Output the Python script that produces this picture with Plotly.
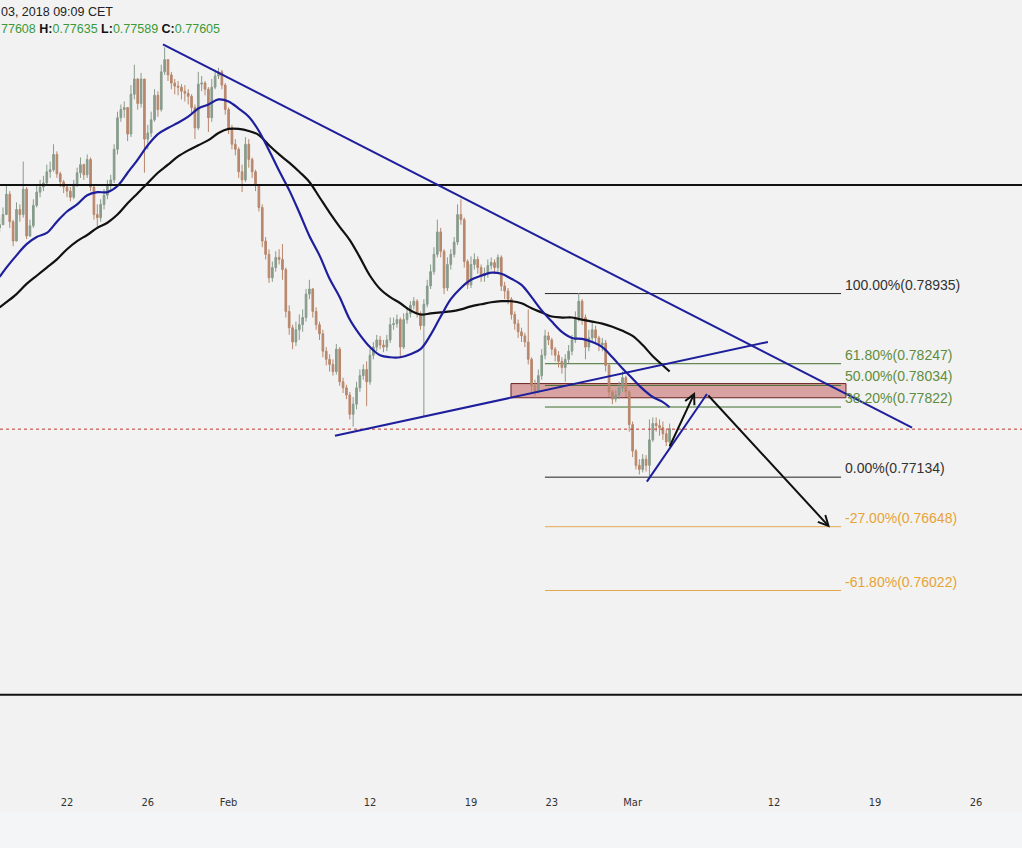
import pandas as pd
import plotly.graph_objects as go

# ---------------- data ----------------
# 4-hour bars, weekdays only (Jan 16 16:00 .. Mar 2 20:00)
bar_times = [t for t in pd.date_range("2018-01-16 16:00", "2018-03-02 20:00", freq="4h") if t.weekday() < 5]

close = [
    0.7961, 0.7971,
    0.7991, 0.7964, 0.7945, 0.7976, 0.7971, 0.7996,
    0.7950, 0.7960, 0.7980, 0.7993, 0.7998, 0.8002,
    0.8013, 0.8015, 0.8030, 0.8011, 0.8003, 0.7998,
    0.7994, 0.7988, 0.8001, 0.8012, 0.8020, 0.8010,
    0.8025, 0.7998, 0.7971, 0.7968, 0.7981, 0.7990,
    0.8000, 0.8005, 0.8035, 0.8066, 0.8074, 0.8076,
    0.8050, 0.8089, 0.8104, 0.8080, 0.8104, 0.8045,
    0.8051, 0.8064, 0.8088, 0.8074, 0.8111, 0.8123,
    0.8108, 0.8100, 0.8097, 0.8096, 0.8092, 0.8090,
    0.8087, 0.8076, 0.8056, 0.8099, 0.8100, 0.8094,
    0.8066, 0.8096, 0.8107, 0.8111, 0.8098, 0.8074,
    0.8056, 0.8040, 0.8035, 0.8013, 0.8005, 0.8040,
    0.8025, 0.8013, 0.8000, 0.7978, 0.7945, 0.7932,
    0.7909, 0.7919, 0.7929, 0.7927, 0.7917, 0.7876,
    0.7860, 0.7846, 0.7858, 0.7863, 0.7870, 0.7893,
    0.7898, 0.7876, 0.7863, 0.7854, 0.7837, 0.7829,
    0.7824, 0.7817, 0.7839, 0.7807, 0.7801, 0.7794,
    0.7775, 0.7785, 0.7801, 0.7813, 0.7819, 0.7807,
    0.7833, 0.7841, 0.7848, 0.7843, 0.7841, 0.7848,
    0.7863, 0.7864, 0.7868, 0.7841, 0.7868, 0.7874,
    0.7882, 0.7886, 0.7874, 0.7862, 0.7883, 0.7901,
    0.7915, 0.7932, 0.7954, 0.7935, 0.7899, 0.7922,
    0.7932, 0.7944, 0.7971, 0.7966, 0.7925, 0.7902,
    0.7922, 0.7927, 0.7919, 0.7911, 0.7913, 0.7921,
    0.7924, 0.7919, 0.7929, 0.7901, 0.7896, 0.7888,
    0.7873, 0.7864, 0.7856, 0.7852, 0.7846, 0.7829,
    0.7803, 0.7797, 0.7813, 0.7833, 0.7852, 0.7848,
    0.7839, 0.7833, 0.7827, 0.7821, 0.7829, 0.7837,
    0.7848, 0.7870, 0.7886, 0.7870, 0.7841, 0.7850,
    0.7858, 0.7850, 0.7843, 0.7845, 0.7823, 0.7797,
    0.7790, 0.7794, 0.7801, 0.7811, 0.7797, 0.7765,
    0.7739, 0.7725, 0.7721, 0.7731, 0.7725, 0.7750,
    0.7766, 0.7764, 0.7762, 0.7756, 0.7748, 0.7761,
]
high = [
    0.7968, 0.7978,
    0.7999, 0.7994, 0.7966, 0.7983, 0.7981, 0.8023,
    0.7998, 0.7966, 0.7986, 0.8000, 0.8005, 0.8009,
    0.8020, 0.8023, 0.8040, 0.8033, 0.8013, 0.8005,
    0.8001, 0.7998, 0.8005, 0.8017, 0.8027, 0.8021,
    0.8030, 0.8027, 0.8001, 0.7981, 0.7986, 0.7996,
    0.8005, 0.8010, 0.8040, 0.8072, 0.8079, 0.8082,
    0.8076, 0.8098, 0.8118, 0.8105, 0.8110, 0.8104,
    0.8059, 0.8072, 0.8094, 0.8092, 0.8118, 0.8135,
    0.8121, 0.8111, 0.8104, 0.8102, 0.8099, 0.8098,
    0.8094, 0.8089, 0.8079, 0.8111, 0.8107, 0.8102,
    0.8096, 0.8104, 0.8113, 0.8115, 0.8113, 0.8100,
    0.8076, 0.8059, 0.8045, 0.8037, 0.8020, 0.8047,
    0.8045, 0.8027, 0.8015, 0.8001, 0.7981, 0.7949,
    0.7937, 0.7925, 0.7935, 0.7937, 0.7942, 0.7919,
    0.7882, 0.7863, 0.7866, 0.7873, 0.7878, 0.7898,
    0.7907, 0.7899, 0.7880, 0.7866, 0.7858, 0.7841,
    0.7834, 0.7829, 0.7844, 0.7841, 0.7811, 0.7804,
    0.7797, 0.7792, 0.7807, 0.7819, 0.7824, 0.7827,
    0.7839, 0.7846, 0.7853, 0.7852, 0.7848, 0.7853,
    0.7870, 0.7870, 0.7873, 0.7870, 0.7874, 0.7880,
    0.7886, 0.7890, 0.7888, 0.7876, 0.7888, 0.7907,
    0.7922, 0.7939, 0.7966, 0.7958, 0.7937, 0.7929,
    0.7937, 0.7949, 0.7981, 0.7986, 0.7968, 0.7927,
    0.7930, 0.7933, 0.7930, 0.7922, 0.7919, 0.7927,
    0.7929, 0.7927, 0.7932, 0.7931, 0.7905, 0.7899,
    0.7890, 0.7876, 0.7868, 0.7860, 0.7855, 0.7878,
    0.7831, 0.7809, 0.7819, 0.7839, 0.7858, 0.7856,
    0.7850, 0.7841, 0.7837, 0.7831, 0.7834, 0.7843,
    0.7853, 0.7876, 0.7894, 0.7888, 0.7873, 0.7858,
    0.7865, 0.7862, 0.7852, 0.7850, 0.7848, 0.7825,
    0.7799, 0.7799, 0.7807, 0.7817, 0.7813, 0.7799,
    0.7768, 0.7741, 0.7731, 0.7736, 0.7735, 0.7770,
    0.7772, 0.7772, 0.7770, 0.7768, 0.7760, 0.7766,
]
low = [
    0.7954, 0.7961,
    0.7971, 0.7958, 0.7940, 0.7945, 0.7964, 0.7968,
    0.7947, 0.7949, 0.7958, 0.7978, 0.7988, 0.7994,
    0.8001, 0.8007, 0.8013, 0.8007, 0.7998, 0.7992,
    0.7988, 0.7984, 0.7986, 0.7998, 0.8007, 0.8005,
    0.8007, 0.7994, 0.7966, 0.7958, 0.7964, 0.7976,
    0.7986, 0.7994, 0.8002, 0.8030, 0.8062, 0.8066,
    0.8043, 0.8047, 0.8084, 0.8074, 0.8076, 0.8012,
    0.8035, 0.8047, 0.8062, 0.8067, 0.8072, 0.8108,
    0.8102, 0.8094, 0.8089, 0.8088, 0.8084, 0.8082,
    0.8079, 0.8069, 0.8045, 0.8054, 0.8092, 0.8088,
    0.8052, 0.8062, 0.8094, 0.8104, 0.8094, 0.8069,
    0.8050, 0.8035, 0.8029, 0.8007, 0.7993, 0.8003,
    0.8017, 0.8007, 0.7994, 0.7974, 0.7939, 0.7927,
    0.7904, 0.7905, 0.7915, 0.7922, 0.7907, 0.7870,
    0.7853, 0.7839, 0.7842, 0.7848, 0.7856, 0.7866,
    0.7888, 0.7870, 0.7858, 0.7848, 0.7831, 0.7823,
    0.7817, 0.7813, 0.7814, 0.7803, 0.7796, 0.7790,
    0.7770, 0.7763, 0.7780, 0.7797, 0.7809, 0.7783,
    0.7804, 0.7829, 0.7837, 0.7839, 0.7836, 0.7837,
    0.7845, 0.7858, 0.7860, 0.7832, 0.7839, 0.7864,
    0.7870, 0.7878, 0.7870, 0.7858, 0.7773, 0.7880,
    0.7898, 0.7912, 0.7929, 0.7929, 0.7893, 0.7896,
    0.7917, 0.7929, 0.7941, 0.7961, 0.7919, 0.7898,
    0.7899, 0.7917, 0.7913, 0.7905, 0.7905, 0.7909,
    0.7917, 0.7913, 0.7915, 0.7896, 0.7888, 0.7883,
    0.7868, 0.7858, 0.7850, 0.7846, 0.7841, 0.7824,
    0.7797, 0.7793, 0.7795, 0.7809, 0.7829, 0.7843,
    0.7833, 0.7827, 0.7821, 0.7815, 0.7807, 0.7825,
    0.7833, 0.7845, 0.7866, 0.7863, 0.7829, 0.7837,
    0.7846, 0.7845, 0.7837, 0.7837, 0.7817, 0.7792,
    0.7785, 0.7787, 0.7790, 0.7797, 0.7792, 0.7758,
    0.7733, 0.7721, 0.7716, 0.7718, 0.7719, 0.7714,
    0.7748, 0.7758, 0.7754, 0.7750, 0.7744, 0.7745,
]
first_open = 0.7958
open_ = [first_open] + close[:-1]

# moving averages, sampled every 12h
ma_times = (["2018-01-16 16:00"]
            + [t for t in pd.date_range("2018-01-17 00:00", "2018-03-02 12:00", freq="12h") if t.weekday() < 5]
            + ["2018-03-02 20:00"])
ma_fast = [
    0.7910, 0.7919, 0.7931, 0.7942, 0.7949, 0.7953, 0.7964, 0.7974, 0.7981, 0.7990,
    0.7993, 0.7993, 0.7999, 0.8012, 0.8025, 0.8039, 0.8050, 0.8056, 0.8061, 0.8067,
    0.8075, 0.8079, 0.8084, 0.8082, 0.8075, 0.8067, 0.8053, 0.8034, 0.8014, 0.7995,
    0.7973, 0.7950, 0.7931, 0.7908, 0.7890, 0.7868, 0.7853, 0.7841, 0.7833, 0.7831,
    0.7831, 0.7834, 0.7839, 0.7853, 0.7871, 0.7888, 0.7899, 0.7907, 0.7911, 0.7914,
    0.7913, 0.7908, 0.7902, 0.7890, 0.7877, 0.7866, 0.7856, 0.7850, 0.7849, 0.7846,
    0.7841, 0.7831, 0.7820, 0.7810, 0.7800, 0.7792, 0.7787, 0.7782,
]
ma_slow = [
    0.7880, 0.7885, 0.7893, 0.7903, 0.7911, 0.7919, 0.7927, 0.7937, 0.7945, 0.7951,
    0.7958, 0.7963, 0.7971, 0.7982, 0.7992, 0.8002, 0.8012, 0.8020, 0.8028, 0.8034,
    0.8039, 0.8044, 0.8051, 0.8055, 0.8055, 0.8053, 0.8049, 0.8039, 0.8030, 0.8022,
    0.8013, 0.8003, 0.7988, 0.7973, 0.7959, 0.7946, 0.7929, 0.7911, 0.7898, 0.7890,
    0.7884, 0.7877, 0.7873, 0.7874, 0.7875, 0.7876, 0.7878, 0.7881, 0.7883, 0.7885,
    0.7886, 0.7886, 0.7884, 0.7879, 0.7875, 0.7871, 0.7870, 0.7870, 0.7868, 0.7866,
    0.7864, 0.7861, 0.7857, 0.7852, 0.7843, 0.7832, 0.7823, 0.7817,
]

# fibonacci levels
fib_levels = [0.78935, 0.78247, 0.78034, 0.77822, 0.77134, 0.76648, 0.76022]
fib_labels = ["100.00%(0.78935)", "61.80%(0.78247)", "50.00%(0.78034)", "38.20%(0.77822)",
              "0.00%(0.77134)", "-27.00%(0.76648)", "-61.80%(0.76022)"]
fib_start, fib_end = "2018-02-22 15:50", "2018-03-15 07:40"

# drawings (time, price)
res_line = [("2018-01-26 18:00", 0.8138), ("2018-03-20 20:00", 0.7762)]
sup_line = [("2018-02-08 06:24", 0.7754), ("2018-03-09 16:48", 0.7846)]
wedge_line = [("2018-03-01 17:00", 0.7709), ("2018-03-06 16:20", 0.7795)]
arrow_down = [("2018-03-06 16:20", 0.7795), ("2018-03-14 18:30", 0.7664)]
arrow_up = [("2018-03-02 19:12", 0.7742), ("2018-03-06 02:10", 0.7797)]
zone = [("2018-02-20 23:30", 0.77913), ("2018-03-15 13:30", 0.78052)]
round_levels = [0.8000, 0.7500]
last_price = 0.77605

tick_vals = ["2018-01-22", "2018-01-26", "2018-02-01", "2018-02-12", "2018-02-19",
             "2018-02-23", "2018-03-01", "2018-03-12", "2018-03-19", "2018-03-26"]
tick_text = ["22", "26", "Feb", "12", "19", "23", "Mar", "12", "19", "26"]

# ---------------- styles ----------------
BG = "#f2f2f2"
UP = "#889c8c"
DOWN = "#b8876c"
BLUE = "#1e1f9c"
GREEN_T = "#5f8c40"
GREEN_L = "#3f6e2c"
ORANGE_T = "#e8a235"
ORANGE_L = "#e2a850"
DARK_T = "#333333"

fig = go.Figure()

fig.add_trace(go.Candlestick(
    x=bar_times, open=open_, high=high, low=low, close=close,
    increasing=dict(line=dict(color=UP, width=1), fillcolor=UP),
    decreasing=dict(line=dict(color=DOWN, width=1), fillcolor=DOWN),
    whiskerwidth=0, showlegend=False, hoverinfo="skip"))

fig.add_trace(go.Scatter(x=ma_times, y=ma_slow, mode="lines", line=dict(color="#111111", width=2.2, shape="spline"),
                         showlegend=False, hoverinfo="skip"))
fig.add_trace(go.Scatter(x=ma_times, y=ma_fast, mode="lines", line=dict(color=BLUE, width=2.2, shape="spline"),
                         showlegend=False, hoverinfo="skip"))

shapes = []
# pink zone
shapes.append(dict(type="rect", xref="x", yref="y", x0=zone[0][0], x1=zone[1][0], y0=zone[0][1], y1=zone[1][1],
                   fillcolor="#d9a2a2", line=dict(color="#6e2020", width=1), layer="below"))
# round number lines
for lv in round_levels:
    shapes.append(dict(type="line", xref="paper", yref="y", x0=0, x1=1, y0=lv, y1=lv,
                       line=dict(color="#111111", width=2)))
# last price
shapes.append(dict(type="line", xref="paper", yref="y", x0=0, x1=1, y0=last_price, y1=last_price,
                   line=dict(color="#c0392b", width=1, dash="dot")))
# fib lines
fib_line_colors = ["#222222", GREEN_L, GREEN_L, GREEN_L, "#222222", ORANGE_L, ORANGE_L]
fib_text_colors = [DARK_T, GREEN_T, GREEN_T, GREEN_T, DARK_T, ORANGE_T, ORANGE_T]
for lv, c in zip(fib_levels, fib_line_colors):
    shapes.append(dict(type="line", xref="x", yref="y", x0=fib_start, x1=fib_end, y0=lv, y1=lv,
                       line=dict(color=c, width=1), layer="below"))
# trend lines
for ln in (res_line, sup_line, wedge_line):
    shapes.append(dict(type="line", xref="x", yref="y", x0=ln[0][0], y0=ln[0][1], x1=ln[1][0], y1=ln[1][1],
                       line=dict(color=BLUE, width=2)))
# bottom strip
shapes.append(dict(type="rect", xref="paper", yref="paper", x0=0, x1=1, y0=-0.0279, y1=-0.08,
                   fillcolor="#f3f5f7", line=dict(width=0), layer="below"))

annotations = []
for lv, lab, c in zip(fib_levels, fib_labels, fib_text_colors):
    annotations.append(dict(x=fib_end, y=lv, xref="x", yref="y", text=lab, showarrow=False,
                            xanchor="left", yanchor="bottom", xshift=2, yshift=-1,
                            font=dict(family="Liberation Sans, Arial, sans-serif", size=14, color=c)))
for ar in (arrow_down, arrow_up):
    annotations.append(dict(x=ar[1][0], y=ar[1][1], ax=ar[0][0], ay=ar[0][1], xref="x", yref="y",
                            axref="x", ayref="y", text="", showarrow=True, arrowhead=5, arrowsize=1,
                            arrowwidth=2, arrowcolor="#111111", standoff=0))
annotations.append(dict(x=0, y=1, xref="paper", yref="paper", xanchor="left", yanchor="top",
                        xshift=-1, yshift=-3, showarrow=False, text="03, 2018 09:09 CET",
                        font=dict(family="Liberation Sans, Arial, sans-serif", size=12.5, color="#222222")))
annotations.append(dict(x=0, y=1, xref="paper", yref="paper", xanchor="left", yanchor="top",
                        xshift=-1, yshift=-20, showarrow=False,
                        text=("77608 <b><span style='color:#111111'>H:</span></b>0.77635 "
                              "<b><span style='color:#111111'>L:</span></b>0.77589 "
                              "<b><span style='color:#111111'>C:</span></b>0.77605"),
                        font=dict(family="Liberation Sans, Arial, sans-serif", size=12.5, color="#3a9a3a")))

fig.update_layout(
    width=1022, height=848,
    margin=dict(l=0, r=0, t=0, b=58),
    paper_bgcolor=BG, plot_bgcolor=BG,
    showlegend=False,
    shapes=shapes, annotations=annotations,
    xaxis=dict(type="date", range=["2018-01-16 16:24", "2018-03-28 06:39"],
               rangebreaks=[dict(bounds=["sat", "mon"])],
               tickmode="array", tickvals=tick_vals, ticktext=tick_text,
               showgrid=False, zeroline=False, showline=False, ticks="",
               rangeslider=dict(visible=False), ticklabelstandoff=4,
               tickfont=dict(family="Liberation Sans Narrow, DejaVu Sans Condensed, Arial Narrow, sans-serif",
                             size=11, color="#333333")),
    yaxis=dict(range=[0.74065, 0.81815], showgrid=False, zeroline=False, showline=False,
               showticklabels=False, ticks="", fixedrange=True),
)

fig.write_html("out.html")
